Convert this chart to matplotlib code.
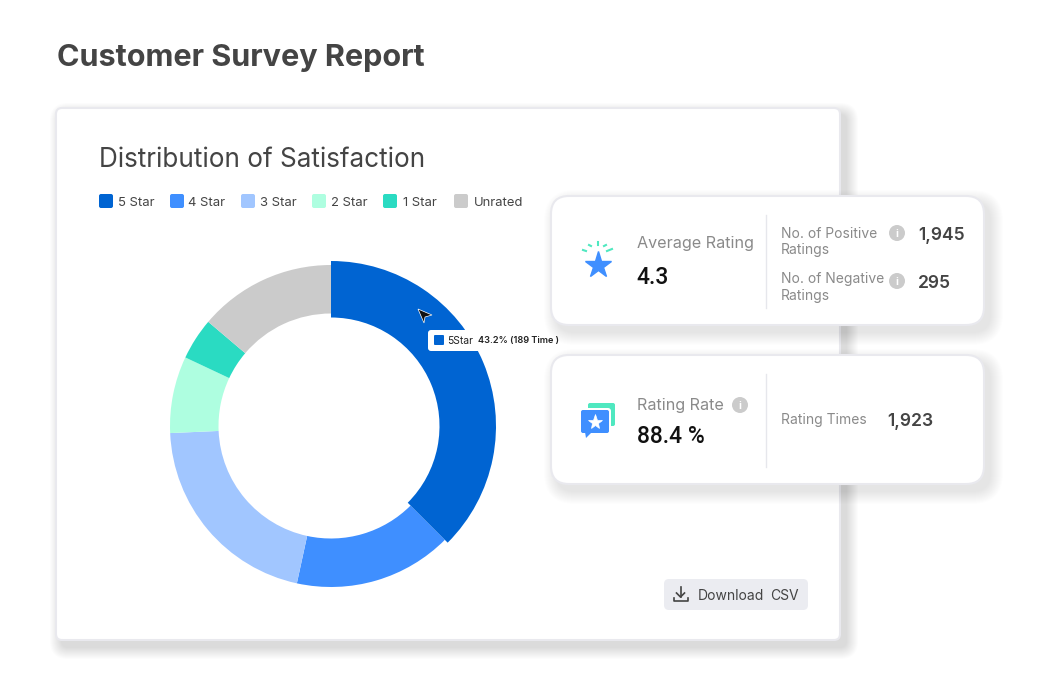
#!/usr/bin/env python3
"""
Customer Survey Report - donut chart with two stat cards
"""

import matplotlib
matplotlib.use("Agg")
import matplotlib.pyplot as plt
from matplotlib.patches import FancyBboxPatch, Circle, Polygon

plt.rcParams['font.family'] = ['Inter', 'DejaVu Sans']

W, H = 1043, 700

# Доли секторов (по часовой от верха)
segments = {
    '5 Star': (37.5, '#0064D2'),
    '4 Star': (15.9, '#3F8FFF'),
    '3 Star': (20.9, '#A1C6FF'),
    '2 Star': (7.7, '#AEFEE0'),
    '1 Star': (4.2, '#2ADBC2'),
    'Unrated': (13.8, '#CBCBCB'),
}
legend_swatch_x = [99, 170, 241, 312, 383, 454]
legend_label_x = [118, 188, 260, 331, 403, 474]

GREY = '#8A8A8A'
DARK = '#444444'


def pixel_axes(fig, zorder):
    """Axes over the whole figure, measured in image pixels"""
    ax = fig.add_axes([0, 0, 1, 1], zorder=zorder)
    ax.set_xlim(0, W)
    ax.set_ylim(H, 0)
    ax.axis('off')
    return ax


def rounded(ax, x0, y0, x1, y1, r, **kw):
    p = FancyBboxPatch((x0 + r, y0 + r), x1 - x0 - 2 * r, y1 - y0 - 2 * r,
                       boxstyle=f'round,pad={r},rounding_size={r}', **kw)
    ax.add_patch(p)
    return p


def card(ax, x0, y0, x1, y1, r, shadow=13, dx=6, dy=7, strength=0.009):
    """White card with a soft shadow made of stacked boxes"""
    for i in range(shadow, 0, -1):
        rounded(ax, x0 + dx - i, y0 + dy - i, x1 + dx + i, y1 + dy + i, r + i,
                fc='black', ec='none', alpha=strength)
    rounded(ax, x0, y0, x1, y1, r, fc='white', ec='#E9E9EE', lw=1.5)


def label(ax, x, y, s, size, color=DARK, weight='normal', ha='left', family=None):
    ax.text(x, y, s, fontsize=size, color=color, fontweight=weight,
            ha=ha, va='center_baseline', family=family)


def info_icon(ax, x, y):
    ax.add_patch(Circle((x, y), 8, fc='#CBCBCB', ec='none'))
    ax.text(x, y, 'i', fontsize=7.5, color='white', fontweight='bold',
            ha='center', va='center_baseline')


fig = plt.figure(figsize=(W / 100, H / 100), dpi=100, facecolor='white')

# Нижний слой: основная карточка
back = pixel_axes(fig, 0)
card(back, 56, 108, 840, 640, 6, shadow=12, dx=6, dy=7, strength=0.011)
back.text(57, 55, 'Customer Survey Report', fontsize=22, fontweight='bold',
          color=DARK, ha='left', va='center_baseline')
back.text(99, 157, 'Distribution of Satisfaction', fontsize=18.8, color=DARK,
          ha='left', va='center_baseline')

for (name, (_, color)), sx, lx in zip(segments.items(), legend_swatch_x, legend_label_x):
    rounded(back, sx, 194, sx + 14, 208, 2, fc=color, ec='none')
    label(back, lx, 201, name, 9.4)

# Кнопка CSV
rounded(back, 664, 579, 808, 610, 5, fc='#EBECF1', ec='none')
back.plot([680.5, 680.5], [587, 597], color=DARK, lw=1.2)
back.plot([676.5, 680.5, 684.5], [593, 597, 593], color=DARK, lw=1.2)
back.plot([673.5, 673.5, 687.5, 687.5], [597.5, 601, 601, 597.5], color=DARK, lw=1.2)
label(back, 698, 594, 'Download', 10)
label(back, 770, 594, 'CSV', 10)

# Сам пончик; сектор 5 Star под курсором толще остальных
cx, cy, R, r_in = 331, 426, 161, 112.5
R_hover, r_hover = 165, 108.5
donut = fig.add_axes([(cx - R) / W, 1 - (cy + R) / H, 2 * R / W, 2 * R / H], zorder=1)
wedges, _ = donut.pie([v[0] for v in segments.values()],
                      colors=[v[1] for v in segments.values()],
                      startangle=90, counterclock=False, radius=1,
                      wedgeprops={'width': 1 - r_in / R, 'linewidth': 0})
donut.set_xlim(-1, 1)
donut.set_ylim(-1, 1)
wedges[0].set_radius(R_hover / R)
wedges[0].set_width((R_hover - r_hover) / R)
wedges[0].set_zorder(5)
for w in wedges:
    w.set_clip_on(False)

# Верхний слой: стат-карточки, подсказка, курсор
top = pixel_axes(fig, 2)

rounded(top, 428, 330, 562, 351, 3, fc='white', ec='none')
rounded(top, 434, 335, 444, 345, 1, fc='#0064D2', ec='none')
label(top, 447, 340, '5Star', 7.4, color='#222222')
label(top, 478, 340, '43.2% (189 Time )', 6.6, color='#222222', weight='semibold')
top.add_patch(Polygon([(418, 309), (432, 315), (425, 317), (424, 323)], closed=True,
                      fc='#111111', ec='white', lw=0.5))

card(top, 551, 196, 984, 325, 18)
card(top, 551, 355, 984, 484, 18)
top.plot([766, 766], [215, 308], color='#E6E7EC', lw=1)
top.plot([766, 766], [374, 467], color='#E6E7EC', lw=1)

# Иконка со звездой
top.plot([598], [264.5], marker='*', ms=20, color='#3F8FFF', mec='#3F8FFF', mew=1)
for x0, y0, x1, y1 in [(583, 250, 586, 251), (589, 245, 591, 246),
                       (597.5, 242, 597.5, 245), (604, 246, 606, 245),
                       (607, 251, 612, 249)]:
    top.plot([x0, x1], [y0, y1], color='#4FE8C0', lw=1.5)

label(top, 637, 242, 'Average Rating', 11.6, color=GREY)
label(top, 636, 275, '4.3', 16.5, color='#111111', weight='medium', family='Roboto')
label(top, 781, 232, 'No. of Positive', 10, color=GREY)
label(top, 781, 248.5, 'Ratings', 10, color=GREY)
info_icon(top, 897, 233)
label(top, 918, 234, '1,945', 12.6, weight='semibold')
label(top, 781, 278, 'No. of Negative', 10, color=GREY)
label(top, 781, 294.5, 'Ratings', 10, color=GREY)
info_icon(top, 897, 281)
label(top, 918, 281, '295', 12.6, weight='semibold')

# Иконка с сообщениями
rounded(top, 588, 403, 615, 426, 2, fc='#4FE8C0', ec='none')
rounded(top, 579, 408, 611, 435, 3, fc='white', ec='none')
rounded(top, 581, 410, 609, 433, 2, fc='#3F8FFF', ec='none')
top.add_patch(Polygon([(585, 432), (592, 432), (586, 438)], closed=True, fc='#3F8FFF', ec='none'))
top.plot([594.5], [421.5], marker='*', ms=11, color='white', mec='white', mew=0.5)

label(top, 637, 404, 'Rating Rate', 11.6, color=GREY)
info_icon(top, 740, 405)
label(top, 637, 434, '88.4 %', 16.5, color='#111111', weight='medium', family='Roboto')
label(top, 781, 418.5, 'Rating Times', 10, color=GREY)
label(top, 887, 419, '1,923', 12.6, weight='semibold')

fig.savefig('out.png', dpi=100)
